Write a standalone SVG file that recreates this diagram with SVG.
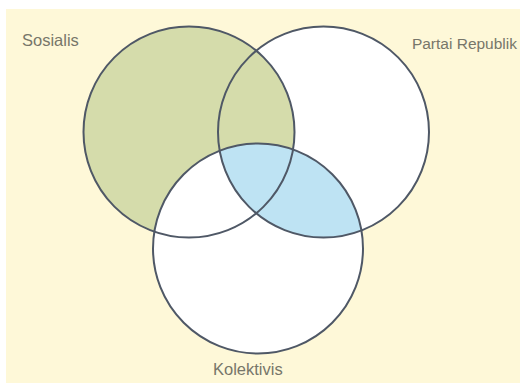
<svg xmlns="http://www.w3.org/2000/svg" width="520" height="383" viewBox="0 0 520 383">
<style>
.lbl{font-family:"Liberation Sans",Arial,sans-serif;font-size:16.5px;fill:#77766a}
.ring{fill:none;stroke:#4f5866;stroke-width:2}
</style>
<defs>
<clipPath id="clipR"><circle cx="323.5" cy="132" r="105.5"/></clipPath>
</defs>
<rect x="0" y="0" width="520" height="383" fill="#ffffff"/>
<rect x="6" y="9" width="514" height="374" fill="#fef8d8"/>
<g id="fills">
<circle cx="323.5" cy="132" r="105.5" fill="#ffffff"/>
<circle cx="189" cy="132" r="105.5" fill="#d5dcab"/>
<circle cx="258" cy="248.5" r="105" fill="#ffffff"/>
<circle cx="258" cy="248.5" r="105" fill="#bee3f3" clip-path="url(#clipR)"/>
</g>
<g id="sosialis">
<circle class="ring" cx="189" cy="132" r="105.5"/>
<text class="lbl" x="22" y="46">Sosialis</text>
</g>
<g id="partai-republik">
<circle class="ring" cx="323.5" cy="132" r="105.5"/>
<text class="lbl" x="517" y="49" text-anchor="end" style="font-size:15.5px">Partai Republik</text>
</g>
<g id="kolektivis">
<circle class="ring" cx="258" cy="248.5" r="105"/>
<text class="lbl" x="213" y="375">Kolektivis</text>
</g>
<g id="connectors"/>
</svg>
